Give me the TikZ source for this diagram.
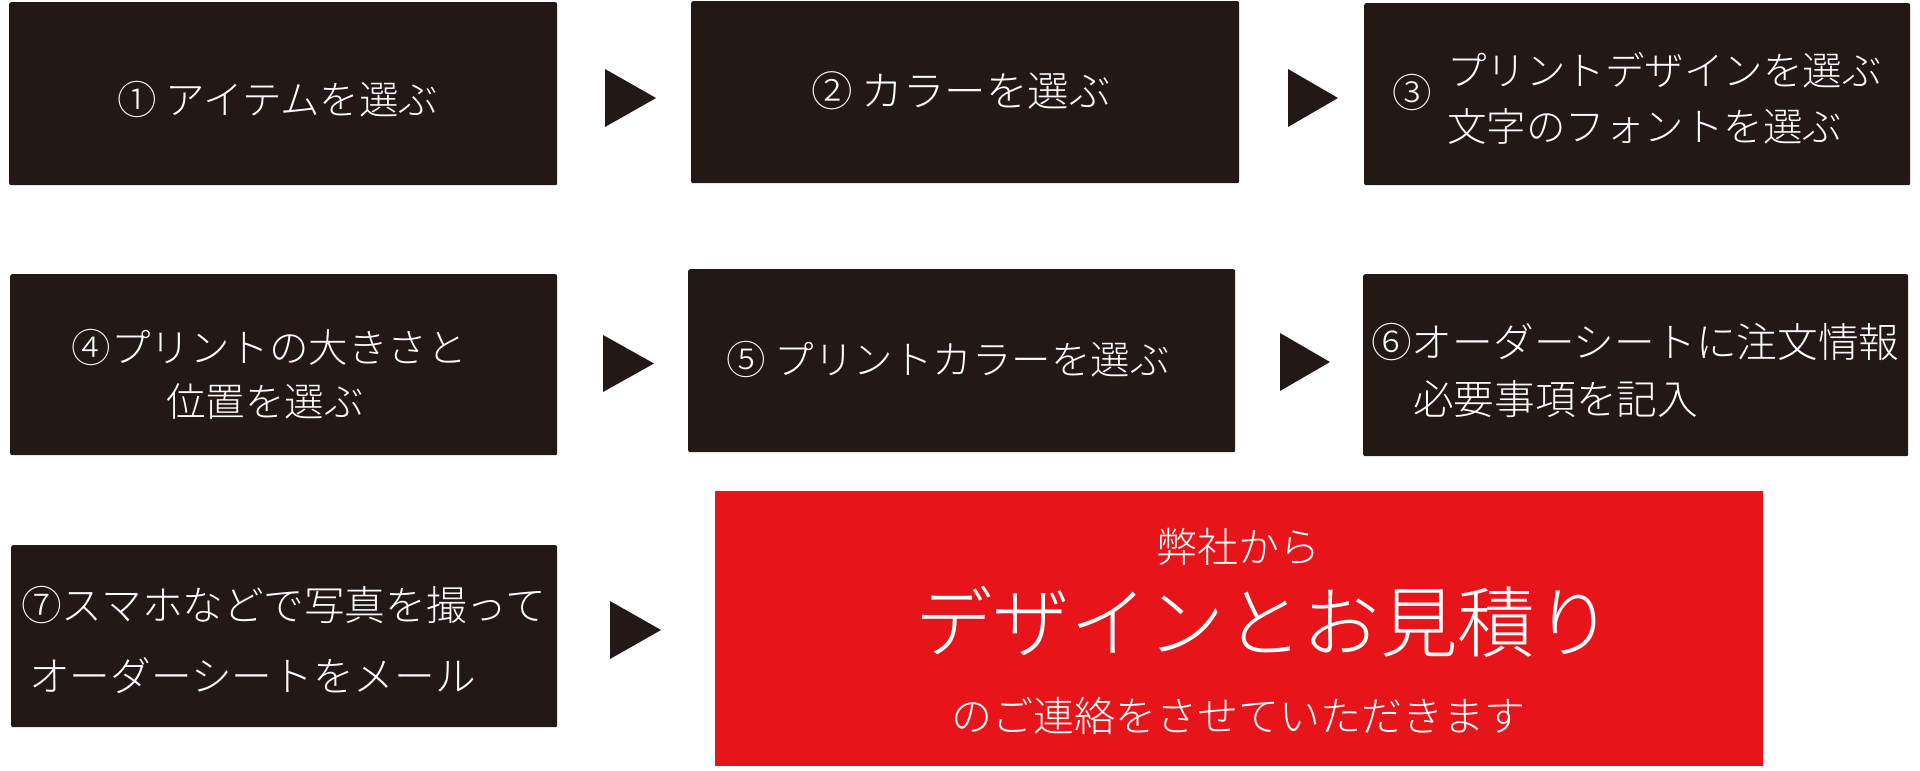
\documentclass[tikz,border=0pt]{standalone}
\usepackage{fontspec}
\setmainfont{Noto Sans CJK JP Light}
\definecolor{boxdark}{HTML}{231815}
\definecolor{boxred}{HTML}{E71419}
\begin{document}
\begin{tikzpicture}[x=1pt,y=-1pt,
  stepbox/.style={fill=boxdark, draw=none, rounded corners=2pt, inner sep=0pt, anchor=north west},
  redbox/.style={fill=boxred, draw=none, inner sep=0pt, anchor=north west},
  lbl/.style={text=white, inner sep=0pt, font=\fontsize{39.5}{44}\selectfont},
  lblb/.style={lbl, font=\fontsize{40.7}{45}\selectfont},
  tri/.style={fill=boxdark, draw=none}]
\useasboundingbox (0,0) rectangle (1920,771);
% boxes
\node[stepbox, minimum width=548pt, minimum height=183pt] (b1) at (9,2) {};
\node[stepbox, minimum width=548pt, minimum height=182pt] (b2) at (691,1) {};
\node[stepbox, minimum width=546pt, minimum height=182pt] (b3) at (1364,3) {};
\node[stepbox, minimum width=547pt, minimum height=181pt] (b4) at (10,274) {};
\node[stepbox, minimum width=547pt, minimum height=183pt] (b5) at (688,269) {};
\node[stepbox, minimum width=545pt, minimum height=182pt] (b6) at (1363,274) {};
\node[stepbox, minimum width=546pt, minimum height=182pt] (b7) at (11,545) {};
\node[redbox, minimum width=1048pt, minimum height=275pt] (r) at (715,491) {};
% arrows
\fill[tri] (605,69) -- (656,98) -- (605,127) -- cycle;
\fill[tri] (1288,69) -- (1338,98) -- (1288,127) -- cycle;
\fill[tri] (603,335) -- (654,363.5) -- (603,392) -- cycle;
\fill[tri] (1280,333) -- (1330,362) -- (1280,391) -- cycle;
\fill[tri] (610,601) -- (661,630) -- (610,659) -- cycle;
% texts
\node[lbl] (t1) at (278,99) {① アイテムを選ぶ};
\node[lbl, font=\fontsize{41.5}{46}\selectfont] (t2) at (961,91) {② カラーを選ぶ};
\node[lbl] (t3n) at (1412,92) {③};
\node[lbl, anchor=west] (t3a) at (1447,70) {プリントデザインを選ぶ};
\node[lbl, anchor=west] (t3b) at (1447,126) {文字のフォントを選ぶ};
\node[lbl] (t4a) at (269,347) {④プリントの大きさと};
\node[lbl] (t4b) at (265,402) {位置を選ぶ};
\node[lbl] (t5) at (948,359) {⑤ プリントカラーを選ぶ};
\node[lblb, anchor=west] (t6a) at (1371,342) {⑥オーダーシートに注文情報};
\node[lblb, anchor=west] (t6b) at (1413,399) {必要事項を記入};
\node[lblb, anchor=west] (t7a) at (21,605) {⑦スマホなどで写真を撮って};
\node[lblb, anchor=west] (t7b) at (29,676) {オーダーシートをメール};
\node[lbl, font=\fontsize{41}{46}\selectfont] (r1) at (1238,547) {弊社から};
\node[lbl, font=\fontsize{77.5}{86}\selectfont] (r2) at (1264,622) {デザインとお見積り};
\node[lbl, font=\fontsize{41}{46}\selectfont] (r3) at (1238,716) {のご連絡をさせていただきます};
\end{tikzpicture}
\end{document}
